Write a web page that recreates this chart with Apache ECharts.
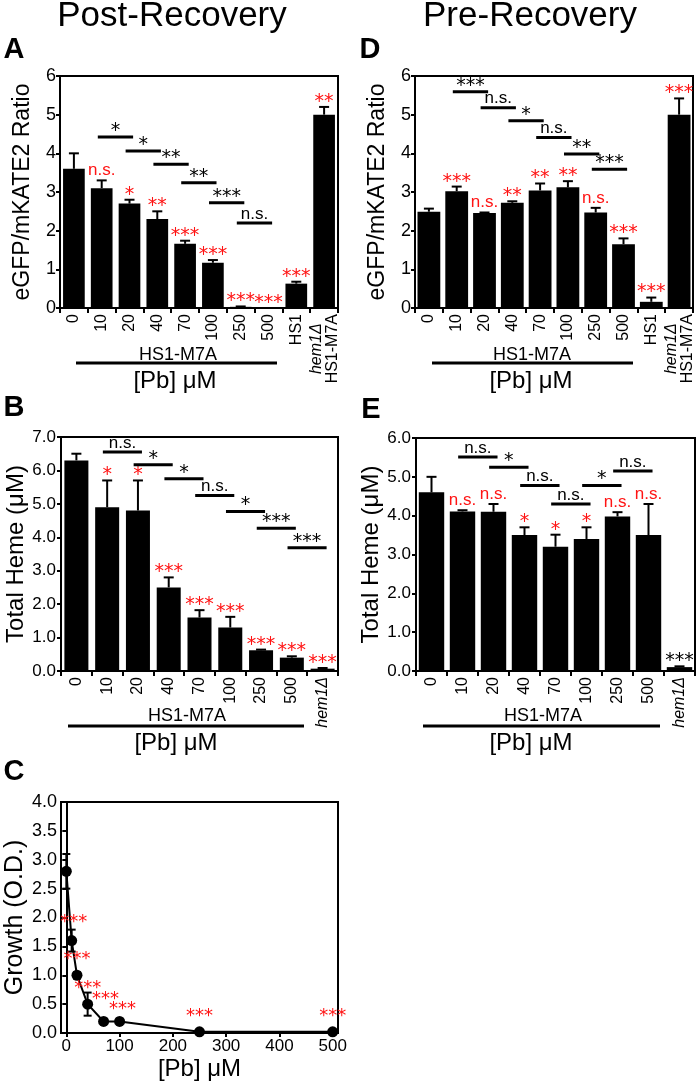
<!DOCTYPE html>
<html><head><meta charset="utf-8">
<script src="https://cdn.jsdelivr.net/npm/echarts@6/dist/echarts.min.js"></script>
<style>html,body{margin:0;padding:0;background:#fff}#c{width:700px;height:1082px}</style>
</head><body><div id="c"></div>
<script>
// ---------- DATA ----------
const catsAD = ['0','10','20','40','70','100','250','500','HS1','hem1Δ HS1-M7A'];
const catsBE = ['0','10','20','40','70','100','250','500','hem1Δ'];

// Panel A (Post-Recovery, eGFP/mKATE2 ratio)
const A_vals = [3.6, 3.1, 2.7, 2.3, 1.66, 1.17, 0.03, 0, 0.63, 5.0];
const A_err  = [0.4, 0.2, 0.1, 0.2, 0.08, 0.07, 0.01, 0, 0.05, 0.2];
const A_sig  = ['', 'n.s.', '*', '**', '***', '***', '***', '***', '***', '**'];
const A_brk  = [[1,2,4.42,'*'],[2,3,4.06,'*'],[3,4,3.72,'**'],[4,5,3.24,'**'],[5,6,2.72,'***'],[6,7,2.2,'n.s.']];

// Panel D (Pre-Recovery, eGFP/mKATE2 ratio)
const D_vals = [2.49, 3.02, 2.46, 2.72, 3.04, 3.12, 2.47, 1.65, 0.16, 5.0];
const D_err  = [0.08, 0.12, 0.01, 0.04, 0.18, 0.16, 0.12, 0.15, 0.11, 0.42];
const D_sig  = ['', '***', 'n.s.', '**', '**', '**', 'n.s.', '***', '***', '***'];
const D_brk  = [[1,2,5.59,'***'],[2,3,5.18,'n.s.'],[3,4,4.84,'*'],[4,5,4.41,'n.s.'],[5,6,3.98,'**'],[6,7,3.59,'***']];

// Panel B (Post-Recovery, total heme)
const B_vals = [6.3, 4.9, 4.8, 2.5, 1.6, 1.3, 0.62, 0.4, 0.07];
const B_err  = [0.2, 0.8, 0.9, 0.3, 0.22, 0.32, 0.02, 0.04, 0.02];
const B_sig  = ['', '*', '*', '***', '***', '***', '***', '***', '***'];
const B_brk  = [[1,2,6.55,'n.s.'],[2,3,6.17,'*'],[3,4,5.75,'*'],[4,5,5.25,'n.s.'],[5,6,4.77,'*'],[6,7,4.27,'***'],[7,8,3.69,'***']];

// Panel E (Pre-Recovery, total heme)
const E_vals = [4.6, 4.11, 4.1, 3.5, 3.2, 3.4, 3.98, 3.5, 0.1];
const E_err  = [0.4, 0.03, 0.2, 0.2, 0.31, 0.3, 0.11, 0.8, 0.02];
const E_sig  = ['', 'n.s.', 'n.s.', '*', '*', '*', 'n.s.', 'n.s.', '***'];
const E_brk  = [[1,2,5.51,'n.s.'],[2,3,5.25,'*'],[3,4,4.78,'n.s.'],[4,5,4.3,'n.s.'],[5,6,4.78,'*'],[6,7,5.15,'n.s.']];

// Panel C (growth curve)
const C_x   = [0, 10, 20, 40, 70, 100, 250, 500];
const C_y   = [2.8, 1.6, 1.0, 0.5, 0.2, 0.2, 0.02, 0.02];
const C_err = [0.3, 0.19, 0.05, 0.2, 0.02, 0.03, 0.01, 0.01];
const C_sig = ['', '***', '***', '***', '***', '***', '***', '***'];
const C_xticks = [0, 100, 200, 300, 400, 500];

// ---------- STYLE / LAYOUT ----------
const FONT = 'Liberation Sans';
const RED = '#ff1414';
const grids = [
  {left: 60,  top: 76,  width: 278, height: 232},  // A
  {left: 415, top: 76,  width: 278, height: 232},  // D
  {left: 61,  top: 437, width: 277, height: 234},  // B
  {left: 416, top: 438, width: 279, height: 233},  // E
  {left: 61,  top: 802, width: 277, height: 231}   // C
].map(g => Object.assign({show: true, borderColor: '#000', borderWidth: 2, containLabel: false}, g));

const xAxes = [], yAxes = [], series = [];

function catFormatter(v) {
  if (v === 'hem1Δ HS1-M7A') return '{i|hem1Δ}\n{n|HS1-M7A}';
  if (v === 'hem1Δ') return '{i|hem1Δ}';
  return v;
}

function starStyle(s) {
  const star = s.indexOf('*') >= 0;
  return {star, fontSize: star ? 19 : 17, fontFamily: star ? 'DejaVu Sans' : FONT};
}

function barPanel(gi, cats, vals, errs, sigs, brk, yMax, yDec, yName, cfg) {
  xAxes.push({
    type: 'category', gridIndex: gi, data: cats,
    axisLine: {lineStyle: {color: '#000', width: 2}},
    axisTick: {show: true, length: 5, lineStyle: {color: '#000', width: 2}},
    axisLabel: {
      interval: 0, rotate: 90, margin: 6, fontSize: 16, color: '#000', fontFamily: FONT,
      formatter: catFormatter,
      rich: {
        i: {fontStyle: 'italic', fontSize: 16, fontFamily: FONT, color: '#000', align: 'center'},
        n: {fontSize: 16, fontFamily: FONT, color: '#000', align: 'center'}
      }
    }
  });
  yAxes.push({
    type: 'value', gridIndex: gi, min: 0, max: yMax, interval: 1,
    splitLine: {show: false},
    axisLine: {show: true, lineStyle: {color: '#000', width: 2}},
    axisTick: {show: true, length: 4, lineStyle: {color: '#000', width: 2}},
    axisLabel: {fontSize: cfg.yLabelSize, color: '#000', margin: cfg.yLabelMargin, fontFamily: FONT,
      formatter: v => v.toFixed(yDec)},
    name: yName, nameLocation: 'middle', nameGap: cfg.nameGap,
    nameTextStyle: {fontSize: cfg.nameSize, color: '#000', fontFamily: FONT}
  });
  series.push({
    type: 'bar', xAxisIndex: gi, yAxisIndex: gi, data: vals,
    barCategoryGap: cfg.gap, itemStyle: {color: '#000'}, silent: true, z: 2
  });
  series.push({
    type: 'custom', xAxisIndex: gi, yAxisIndex: gi, silent: true, z: 3,
    data: vals.map((v, i) => [i, v + errs[i]]),
    renderItem: (params, api) => {
      const i = params.dataIndex;
      const base = api.coord([i, vals[i]]);
      const top = api.coord([i, vals[i] + errs[i]]);
      const ch = [];
      if (errs[i] > 0) {
        ch.push({type: 'line', shape: {x1: base[0], y1: base[1], x2: top[0], y2: top[1]}, style: {stroke: '#000', lineWidth: 2}});
        ch.push({type: 'line', shape: {x1: top[0] - 5, y1: top[1], x2: top[0] + 5, y2: top[1]}, style: {stroke: '#000', lineWidth: 2}});
      }
      const s = sigs[i];
      if (s) {
        const st = starStyle(s);
        const col = (cfg.blackLast && i === vals.length - 1) ? '#000' : RED;
        ch.push({type: 'text', style: {text: s, x: top[0], y: top[1] - (st.star ? 5 : 10),
          align: 'center', verticalAlign: 'middle', fill: col, fontSize: st.fontSize, fontFamily: st.fontFamily}});
      }
      return {type: 'group', children: ch};
    }
  });
  series.push({
    type: 'custom', xAxisIndex: gi, yAxisIndex: gi, silent: true, z: 3,
    data: brk.map(b => [b[0], b[2]]),
    renderItem: (params, api) => {
      const b = brk[params.dataIndex];
      const p1 = api.coord([b[0], b[2]]);
      const p2 = api.coord([b[1], b[2]]);
      const cw = p2[0] - p1[0];
      const x1 = p1[0] - 0.14 * cw, x2 = p2[0] + 0.13 * cw;
      const st = starStyle(b[3]);
      return {type: 'group', children: [
        {type: 'line', shape: {x1: x1, y1: p1[1], x2: x2, y2: p1[1]}, style: {stroke: '#000', lineWidth: 3}},
        {type: 'text', style: {text: b[3], x: (x1 + x2) / 2, y: p1[1] - (st.star ? 6 : 9),
          align: 'center', verticalAlign: 'middle', fill: '#000', fontSize: st.fontSize, fontFamily: st.fontFamily}}
      ]};
    }
  });
}

barPanel(0, catsAD, A_vals, A_err, A_sig, A_brk, 6, 0, 'eGFP/mKATE2 Ratio',
  {gap: '22%', yLabelSize: 18, yLabelMargin: 4, nameGap: 26, nameSize: 23});
barPanel(1, catsAD, D_vals, D_err, D_sig, D_brk, 6, 0, 'eGFP/mKATE2 Ratio',
  {gap: '18%', yLabelSize: 18, yLabelMargin: 4, nameGap: 26, nameSize: 23});
barPanel(2, catsBE, B_vals, B_err, B_sig, B_brk, 7, 1, 'Total Heme (μM)',
  {gap: '22%', yLabelSize: 17, yLabelMargin: 5, nameGap: 32, nameSize: 24});
barPanel(3, catsBE, E_vals, E_err, E_sig, E_brk, 6, 1, 'Total Heme (μM)',
  {gap: '18%', yLabelSize: 17, yLabelMargin: 5, nameGap: 32, nameSize: 24, blackLast: true});

// Panel C
xAxes.push({
  type: 'value', gridIndex: 4, min: -10, max: 510,
  splitLine: {show: false},
  axisLine: {lineStyle: {color: '#000', width: 2}},
  axisTick: {show: true, length: 4, customValues: C_xticks, lineStyle: {color: '#000', width: 2}},
  axisLabel: {customValues: C_xticks, fontSize: 17, color: '#000', margin: 5, fontFamily: FONT},
  name: '[Pb] μM', nameLocation: 'middle', nameGap: 24,
  nameTextStyle: {fontSize: 24, color: '#000', fontFamily: FONT}
});
yAxes.push({
  type: 'value', gridIndex: 4, min: 0, max: 4, interval: 0.5,
  splitLine: {show: false},
  axisLine: {show: true, lineStyle: {color: '#000', width: 2}},
  axisTick: {show: true, length: 4, lineStyle: {color: '#000', width: 2}},
  axisLabel: {fontSize: 18, color: '#000', margin: 4, fontFamily: FONT, formatter: v => v.toFixed(1)},
  name: 'Growth (O.D.)', nameLocation: 'middle', nameGap: 32,
  nameTextStyle: {fontSize: 25, color: '#000', fontFamily: FONT}
});
series.push({
  type: 'custom', xAxisIndex: 4, yAxisIndex: 4, silent: true, z: 2,
  data: C_x.map((x, i) => [x, C_y[i]]),
  renderItem: (params, api) => {
    const i = params.dataIndex;
    const lo = api.coord([C_x[i], C_y[i] - C_err[i]]);
    const hi = api.coord([C_x[i], C_y[i] + C_err[i]]);
    return {type: 'group', children: [
      {type: 'line', shape: {x1: lo[0], y1: lo[1], x2: hi[0], y2: hi[1]}, style: {stroke: '#000', lineWidth: 2}},
      {type: 'line', shape: {x1: hi[0] - 4, y1: hi[1], x2: hi[0] + 4, y2: hi[1]}, style: {stroke: '#000', lineWidth: 2}},
      {type: 'line', shape: {x1: lo[0] - 4, y1: lo[1], x2: lo[0] + 4, y2: lo[1]}, style: {stroke: '#000', lineWidth: 2}}
    ]};
  }
});
// label nudges (pixels) so that neighbouring star labels in panel C don't collide
const C_labelNudge = {1: [2, -3], 4: [2, -7], 5: [3, 3]};
series.push({
  type: 'line', xAxisIndex: 4, yAxisIndex: 4, silent: true, z: 3,
  data: C_x.map((x, i) => [x, C_y[i]]),
  symbol: 'circle', symbolSize: 11, showAllSymbol: true,
  lineStyle: {color: '#000', width: 2}, itemStyle: {color: '#000'},
  label: {show: true, position: 'top', distance: 1, color: RED, fontSize: 18, fontFamily: 'DejaVu Sans',
    formatter: p => C_sig[p.dataIndex]},
  labelLayout: p => {
    const n = C_labelNudge[p.dataIndex];
    return n ? {dx: n[0], dy: n[1]} : {};
  }
});

// ---------- GRAPHICS (titles, panel letters, group labels) ----------
function txt(x, y, text, size, extra) {
  return Object.assign({type: 'text', x: x, y: y, silent: true,
    style: Object.assign({text: text, fontSize: size, fontFamily: FONT, fill: '#000', align: 'center', verticalAlign: 'middle'}, extra || {})});
}
function hline(x1, x2, y) {
  return {type: 'line', silent: true, shape: {x1: x1, y1: y, x2: x2, y2: y}, style: {stroke: '#000', lineWidth: 3}};
}
const graphics = [
  txt(172, 16, 'Post-Recovery', 35),
  txt(530, 16, 'Pre-Recovery', 35),
  txt(14, 50, 'A', 29, {fontWeight: 'bold'}),
  txt(370, 50, 'D', 29, {fontWeight: 'bold'}),
  txt(14, 408, 'B', 29, {fontWeight: 'bold'}),
  txt(371, 410, 'E', 29, {fontWeight: 'bold'}),
  txt(14, 772, 'C', 29, {fontWeight: 'bold'}),
  txt(178, 355, 'HS1-M7A', 18), hline(76, 277, 363), txt(175, 381, '[Pb] μM', 24),
  txt(532, 355, 'HS1-M7A', 18), hline(432, 633, 363), txt(531, 381, '[Pb] μM', 24),
  txt(187, 716, 'HS1-M7A', 18), hline(68, 304, 726), txt(176, 743, '[Pb] μM', 24),
  txt(543, 716, 'HS1-M7A', 18), hline(423, 660, 726), txt(531, 743, '[Pb] μM', 24)
];

const chart = echarts.init(document.getElementById('c'), null, {renderer: 'canvas'});
chart.setOption({
  animation: false,
  backgroundColor: '#fff',
  textStyle: {fontFamily: FONT},
  grid: grids, xAxis: xAxes, yAxis: yAxes, series: series,
  graphic: graphics
});
</script></body></html>
